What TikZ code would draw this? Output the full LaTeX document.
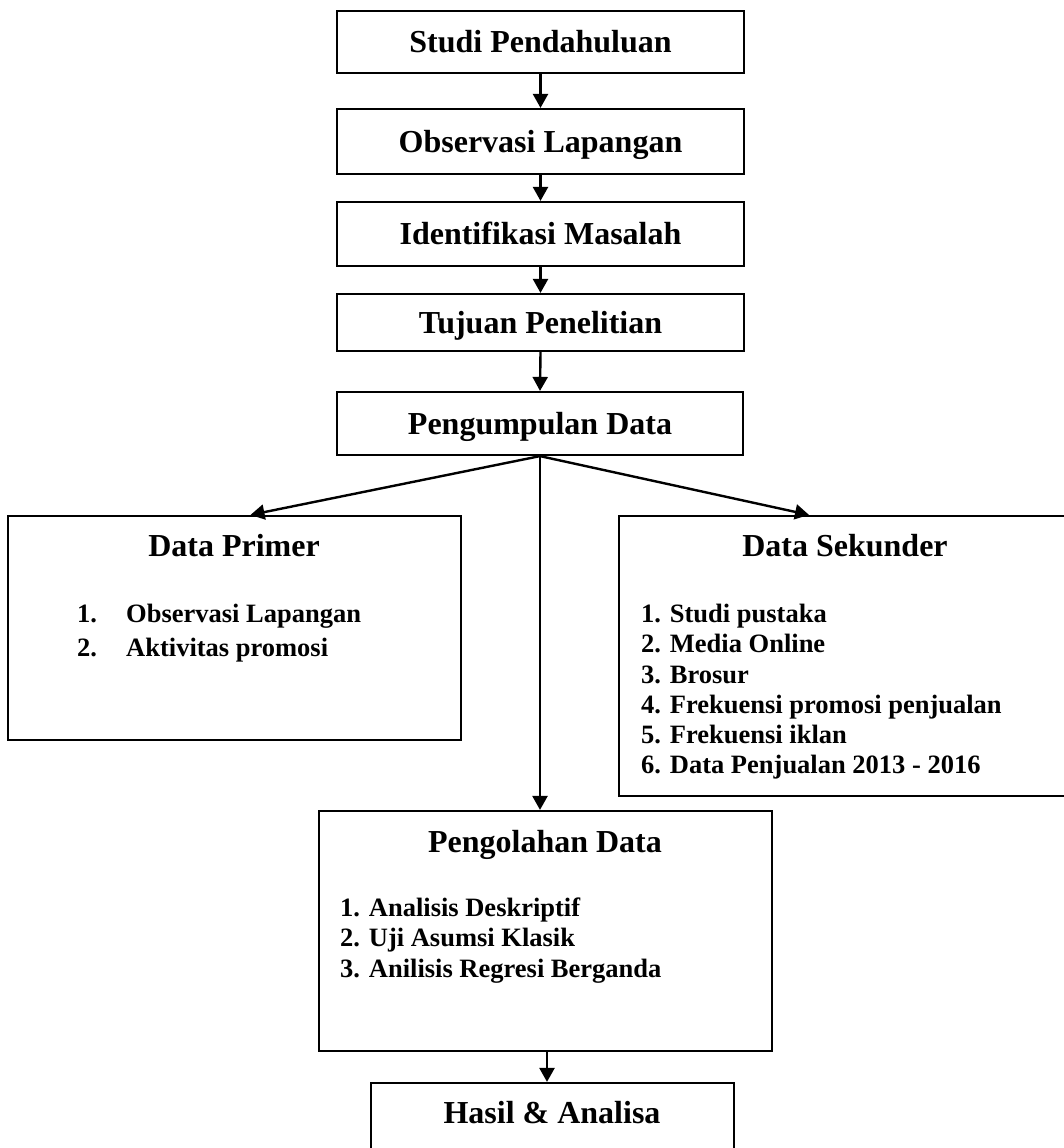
\documentclass[tikz,border=0pt]{standalone}
\usepackage{fontspec}
\setmainfont{Liberation Serif}
\usetikzlibrary{arrows.meta,calc}
\begin{document}
\begin{tikzpicture}[x=1pt,y=-1pt,
  box/.style={draw, line width=2.2pt, rectangle, inner sep=0pt},
  sbox/.style={box, font=\bfseries\fontsize{32}{38}\selectfont, text height=21pt, text depth=0pt},
  ttl/.style={font=\bfseries\fontsize{32}{38}\selectfont, anchor=base, inner sep=0pt},
  itm/.style={font=\bfseries\fontsize{26.5}{30}\selectfont, anchor=base west, inner sep=0pt},
  arr/.style={line width=2.4pt, -{Triangle[width=15pt,length=14pt]}}]
\useasboundingbox (0,0) rectangle (1064,1148);
\clip (0,0) rectangle (1064,1148);

% simple boxes
\node[sbox, minimum width=407, minimum height=62] (studi) at (540.5,42) {Studi Pendahuluan};
\node[sbox, minimum width=407, minimum height=65] (obs) at (540.5,141.5) {Observasi Lapangan};
\node[sbox, minimum width=407, minimum height=64] (ident) at (540.5,234) {Identifikasi Masalah};
\node[sbox, minimum width=407, minimum height=57] (tuj) at (540.5,322.5) {Tujuan Penelitian};
\node[sbox, minimum width=406, minimum height=63] (kumpul) at (540,423.5) {Pengumpulan Data};

% large boxes
\node[box, minimum width=453, minimum height=224] (primer) at (234.5,628) {};
\node[box, minimum width=451, minimum height=280] (sekunder) at (844.5,656) {};
\node[box, minimum width=453, minimum height=240] (olah) at (545.5,931) {};
\node[box, minimum width=363, minimum height=87] (hasil) at (552.5,1126.5) {};

% Data Primer
\node[ttl] (primerT) at (234,556) {Data Primer};
\node[itm] (p1n) at (77,622) {1.};
\node[itm] (p1) at (126,622) {Observasi Lapangan};
\node[itm] (p2n) at (77,656) {2.};
\node[itm] (p2) at (126,656) {Aktivitas promosi};

% Data Sekunder
\node[ttl] (sekT) at (845,556) {Data Sekunder};
\node[itm] (s1) at (641,622) {1. Studi pustaka};
\node[itm] (s2) at (641,652) {2. Media Online};
\node[itm] (s3) at (641,683) {3. Brosur};
\node[itm] (s4) at (641,713) {4. Frekuensi promosi penjualan};
\node[itm] (s5) at (641,743) {5. Frekuensi iklan};
\node[itm] (s6) at (641,773) {6. Data Penjualan 2013 - 2016};

% Pengolahan Data
\node[ttl] (olahT) at (545,852) {Pengolahan Data};
\node[itm] (o1) at (340,916) {1. Analisis Deskriptif};
\node[itm] (o2) at (340,946) {2. Uji Asumsi Klasik};
\node[itm] (o3) at (340,977) {3. Anilisis Regresi Berganda};

% Hasil
\node[ttl] (hasilT) at (552,1123) {Hasil \& Analisa};

% arrows
\draw[arr] (studi.south) -- (obs.north);
\draw[arr] (obs.south) -- (ident.north);
\draw[arr] (ident.south) -- (tuj.north);
\draw[arr] (tuj.south) -- (kumpul.north);
\draw[arr] (kumpul.south) -- ($(primer.north)+(16,0)$);
\draw[arr] (kumpul.south) -- ($(sekunder.north)+(-35.5,0)$);
\draw[arr] (kumpul.south) -- (kumpul.south |- olah.north);
\draw[arr] ($(olah.south)+(1.5,0)$) -- ($(hasil.north)+(-5.5,0)$);
\end{tikzpicture}
\end{document}
